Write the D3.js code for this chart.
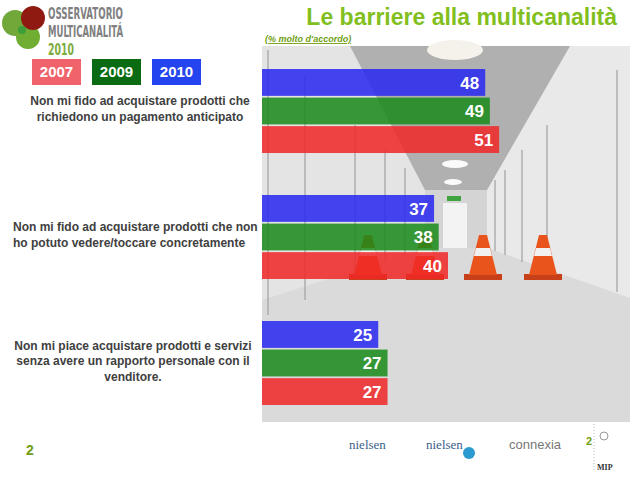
<!DOCTYPE html>
<html>
<head>
<meta charset="utf-8">
<script src="https://cdn.jsdelivr.net/npm/d3@7"></script>
<style>
  body { margin: 0; background: #fff; }
  svg { display: block; font-family: "Liberation Sans", Arial, sans-serif; }
</style>
</head>
<body>
<div id="chart"></div>
<script>
// data
const categories = [
  ["Non mi fido ad acquistare prodotti che", "richiedono un pagamento anticipato"],
  ["Non mi fido ad acquistare prodotti che non", "ho potuto vedere/toccare concretamente"],
  ["Non mi piace acquistare prodotti e servizi", "senza avere un rapporto personale con il", "venditore."]
];
const years = ["2010", "2009", "2007"];
const values2010 = [48, 37, 25];
const values2009 = [49, 38, 27];
const values2007 = [51, 40, 27];
const legendYears = ["2007", "2009", "2010"];

const width = 640;
const height = 480;

const svg = d3.select("#chart")
  .append("svg")
  .attr("width", width)
  .attr("height", height);

// background photo (rough corridor)
const bg = svg.append("g").attr("class", "photo");
const px0 = 262, px1 = 630, py0 = 46, py1 = 422;
bg.append("rect").attr("x", px0).attr("y", py0)
  .attr("width", px1 - px0).attr("height", py1 - py0).attr("fill", "#dadada");

const poly = (pts, fill) => bg.append("polygon")
  .attr("points", pts.map((p) => p.join(",")).join(" "))
  .attr("fill", fill);

poly([[px0, py0], [350, py0], [425, 190], [425, 248], [px0, 300]], "#e4e4e4");
poly([[570, py0], [px1, py0], [px1, 298], [487, 248], [487, 190]], "#e9e9e9");
poly([[350, py0], [570, py0], [487, 190], [425, 190]], "#b0b0b0");
poly([[425, 190], [487, 190], [487, 248], [425, 248]], "#d4d4d4");
bg.append("rect").attr("x", 443).attr("y", 203).attr("width", 24).attr("height", 45).attr("fill", "#f3f3f3");
bg.append("rect").attr("x", 447).attr("y", 196).attr("width", 14).attr("height", 5).attr("fill", "#3fa33f");
// door edges on the walls
[[268, 50, 315], [305, 75, 300], [355, 125, 275], [385, 150, 262], [405, 168, 255]].forEach(([x, a, b]) => {
  bg.append("line").attr("x1", x).attr("x2", x).attr("y1", a).attr("y2", b)
    .attr("stroke", "#a0a0a0").attr("stroke-width", 1.2);
});
[[617, 70, 292], [547, 125, 270], [522, 150, 262], [505, 170, 255], [495, 180, 251]].forEach(([x, a, b]) => {
  bg.append("line").attr("x1", x).attr("x2", x).attr("y1", a).attr("y2", b)
    .attr("stroke", "#a0a0a0").attr("stroke-width", 1.2);
});
// lamps
bg.append("ellipse").attr("cx", 455).attr("cy", 50).attr("rx", 28).attr("ry", 10).attr("fill", "#f4f2ea");
bg.append("ellipse").attr("cx", 455).attr("cy", 164).attr("rx", 13).attr("ry", 4).attr("fill", "#fafafa");
bg.append("ellipse").attr("cx", 453).attr("cy", 182).attr("rx", 9).attr("ry", 3).attr("fill", "#fafafa");
// cones
[368, 425, 483, 543].forEach((cx) => {
  const c = bg.append("g").attr("transform", `translate(${cx},0)`);
  c.append("rect").attr("x", -19).attr("y", 274).attr("width", 38).attr("height", 6).attr("fill", "#c8401a");
  c.append("polygon").attr("points", "-4,235 4,235 14,275 -14,275").attr("fill", "#e9541c");
  c.append("polygon").attr("points", "-7,248 7,248 9,256 -9,256").attr("fill", "#f1f1f1");
});

// scales
const y0 = d3.scaleBand()
  .domain(d3.range(categories.length))
  .range([69, 405])
  .paddingInner(1 / 3)
  .paddingOuter(0);

const y1 = d3.scaleBand()
  .domain(years)
  .range([0, y0.bandwidth()])
  .paddingInner(0.06);

const x = d3.scaleLinear().domain([0, 100]).range([px0, px0 + 465]);

const color = d3.scaleOrdinal()
  .domain(years)
  .range(["#2828f0", "#1a8a1a", "#f02828"]);

const rows = categories.map((c, i) => ({
  index: i,
  bars: [
    { year: "2010", value: values2010[i] },
    { year: "2009", value: values2009[i] },
    { year: "2007", value: values2007[i] }
  ]
}));

const groups = svg.append("g").selectAll("g.group")
  .data(rows)
  .join("g")
  .attr("class", "group")
  .attr("transform", (d) => `translate(0,${y0(d.index)})`);

groups.selectAll("rect.bar")
  .data((d) => d.bars)
  .join("rect")
  .attr("class", "bar")
  .attr("x", x(0))
  .attr("y", (d) => y1(d.year))
  .attr("width", (d) => x(d.value) - x(0))
  .attr("height", y1.bandwidth())
  .attr("fill", (d) => color(d.year))
  .attr("fill-opacity", 0.86);

groups.selectAll("text.val")
  .data((d) => d.bars)
  .join("text")
  .attr("class", "val")
  .attr("x", (d) => x(d.value) - 6)
  .attr("y", (d) => y1(d.year) + y1.bandwidth() / 2)
  .attr("dy", "0.36em")
  .attr("text-anchor", "end")
  .attr("fill", "#fff")
  .style("font-size", "17px")
  .style("font-weight", "bold")
  .text((d) => d.value);

// category labels
const labelX = [140, 13, 133];
const labelAnchor = ["middle", "start", "middle"];
categories.forEach((lines, i) => {
  const cy = y0(i) + y0.bandwidth() / 2 - 2;
  const t = svg.append("text")
    .attr("x", labelX[i])
    .attr("text-anchor", labelAnchor[i])
    .attr("fill", "#404040")
    .style("font-size", "12px")
    .style("font-weight", "bold");
  lines.forEach((line, j) => {
    t.append("tspan")
      .attr("x", labelX[i])
      .attr("y", cy + (j - (lines.length - 1) / 2) * 15.5)
      .attr("dy", "0.35em")
      .text(line);
  });
});

// legend
const legend = svg.append("g").selectAll("g")
  .data(legendYears)
  .join("g")
  .attr("transform", (d, i) => `translate(${32 + i * 60},59)`);
const legendFill = { "2007": "#f0636a", "2009": "#0b6b12", "2010": "#2444f0" };
legend.append("rect").attr("width", 49).attr("height", 26).attr("fill", (d) => legendFill[d]);
legend.append("text")
  .attr("x", 24.5).attr("y", 13).attr("dy", "0.36em")
  .attr("text-anchor", "middle").attr("fill", "#fff")
  .style("font-size", "15px").style("font-weight", "bold")
  .text((d) => d);

// title
svg.append("text")
  .attr("x", 617).attr("y", 25)
  .attr("text-anchor", "end")
  .attr("fill", "#82bf1e")
  .style("font-size", "23px").style("font-weight", "bold")
  .text("Le barriere alla multicanalità");

svg.append("text")
  .attr("x", 265).attr("y", 42)
  .attr("fill", "#6f9e12")
  .style("font-size", "9px").style("font-weight", "bold").style("font-style", "italic")
  .style("text-decoration", "underline")
  .text("(% molto d'accordo)");

// logo
const logo = svg.append("g");
logo.append("circle").attr("cx", 15).attr("cy", 23).attr("r", 13).attr("fill", "#72a83a");
logo.append("circle").attr("cx", 28).attr("cy", 37).attr("r", 12).attr("fill", "#6fae32");
logo.append("circle").attr("cx", 33).attr("cy", 18).attr("r", 12).attr("fill", "#8e1a12");
logo.append("circle").attr("cx", 22).attr("cy", 30).attr("r", 4).attr("fill", "#2f9a3a").attr("opacity", 0.8);
const logoText = [["OSSERVATORIO", "#808080", 19], ["MULTICANALITÁ", "#808080", 37], ["2010", "#7bab3d", 55]];
logo.selectAll("text.lt")
  .data(logoText)
  .join("text")
  .attr("class", "lt")
  .attr("x", 48).attr("y", (d) => d[2])
  .attr("fill", (d) => d[1])
  .style("font-family", "'DejaVu Sans Condensed', 'DejaVu Sans', sans-serif")
  .style("font-stretch", "condensed")
  .style("font-weight", "bold")
  .style("font-size", "15px")
  .attr("lengthAdjust", "spacingAndGlyphs")
  .attr("textLength", (d) => d[0] === "2010" ? 26 : 75)
  .text((d) => d[0]);

// footer
svg.append("text").attr("x", 26).attr("y", 455)
  .attr("fill", "#6f9e12").style("font-size", "14px").style("font-weight", "bold").text("2");
svg.append("text").attr("x", 349).attr("y", 449)
  .attr("fill", "#3a5f8a").style("font-family", "'Liberation Serif', serif").style("font-size", "13px").text("nielsen");
svg.append("text").attr("x", 426).attr("y", 449)
  .attr("fill", "#3a5f8a").style("font-family", "'Liberation Serif', serif").style("font-size", "13px").text("nielsen");
svg.append("circle").attr("cx", 469).attr("cy", 453).attr("r", 6).attr("fill", "#2a9ad0");
svg.append("text").attr("x", 509).attr("y", 449)
  .attr("fill", "#777").style("font-size", "13px").text("connexia");
svg.append("text").attr("x", 586).attr("y", 445)
  .attr("fill", "#6f9e12").style("font-size", "11px").style("font-weight", "bold").text("2");
svg.append("line").attr("x1", 594).attr("x2", 594).attr("y1", 424).attr("y2", 472)
  .attr("stroke", "#bbb").attr("stroke-dasharray", "1 2");
svg.append("circle").attr("cx", 604).attr("cy", 436).attr("r", 4).attr("fill", "none").attr("stroke", "#999");
svg.append("text").attr("x", 597).attr("y", 470)
  .attr("fill", "#333").style("font-family", "'Liberation Serif', serif").style("font-size", "8px").style("font-weight", "bold").text("MIP");
</script>
</body>
</html>
